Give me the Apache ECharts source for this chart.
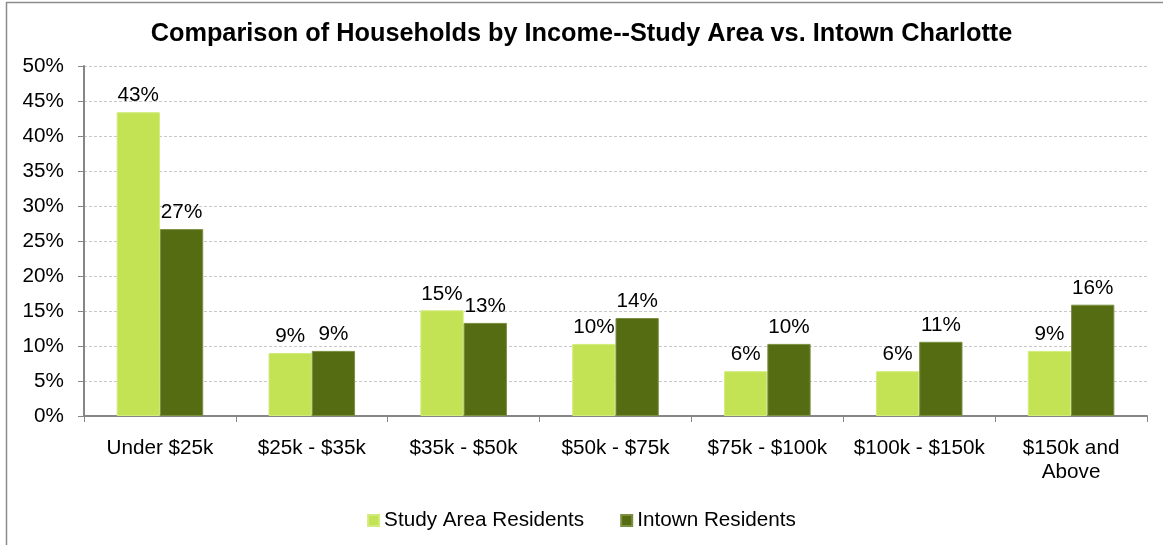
<!DOCTYPE html>
<html>
<head>
<meta charset="utf-8">
<script src="https://cdn.jsdelivr.net/npm/echarts@6/dist/echarts.min.js"></script>
<style>
  html, body { margin: 0; padding: 0; background: #ffffff; }
  #chart { width: 1163px; height: 545px; }
</style>
</head>
<body>
<div id="chart"></div>
<script>
// Household income brackets
const categories = ['Under $25k', '$25k - $35k', '$35k - $50k', '$50k - $75k', '$75k - $100k', '$100k - $150k', '$150k and\nAbove'];
// Share of households (%) in each bracket
const studyArea = [43.4, 9.0, 15.1, 10.3, 6.4, 6.4, 9.3];
const intown = [26.7, 9.3, 13.3, 14.0, 10.3, 10.6, 15.9];
const seriesNames = ['Study Area Residents', 'Intown Residents'];
const yTicks = { min: 0, max: 50, interval: 5 };

const FONT = '"Liberation Sans", Arial, sans-serif';
const label = {
  show: true,
  position: 'top',
  distance: 6,
  color: '#000',
  fontFamily: FONT,
  fontSize: 20.7,
  formatter: p => Math.round(p.value) + '%'
};

const chart = echarts.init(document.getElementById('chart'), null, { renderer: 'canvas' });
chart.setOption({
  backgroundColor: '#ffffff',
  animation: false,
  graphic: [{
    type: 'rect',
    left: 4, top: 0,
    shape: { width: 1200, height: 600 },
    style: { fill: 'none', stroke: '#8c8c8c', lineWidth: 1.5 },
    z: -1
  }],
  title: {
    text: 'Comparison of Households by Income--Study Area vs. Intown Charlotte',
    left: 'center',
    top: 17,
    textStyle: { fontFamily: FONT, fontSize: 25.3, fontWeight: 'bold', color: '#000' }
  },
  legend: {
    bottom: 9,
    left: 'center',
    itemWidth: 11,
    itemHeight: 11,
    itemGap: 36,
    icon: 'rect',
    textStyle: { fontFamily: FONT, fontSize: 20.7, color: '#000', padding: [0, 0, 0, 0] },
    data: seriesNames
  },
  grid: { left: 84, right: 16, top: 66, bottom: 129, containLabel: false },
  xAxis: {
    type: 'category',
    data: categories,
    axisLine: { lineStyle: { color: '#868686', width: 2 } },
    axisTick: { show: true, length: 6, interval: 0, lineStyle: { color: '#868686' } },
    axisLabel: { interval: 0, color: '#000', fontFamily: FONT, fontSize: 20.7, margin: 20, lineHeight: 24 }
  },
  yAxis: {
    type: 'value',
    min: yTicks.min,
    max: yTicks.max,
    interval: yTicks.interval,
    axisLine: { show: true, lineStyle: { color: '#868686', width: 2 } },
    axisTick: { show: true, length: 6, lineStyle: { color: '#868686' } },
    axisLabel: { color: '#000', fontFamily: FONT, fontSize: 20.7, margin: 20, formatter: '{value}%' },
    splitLine: { lineStyle: { color: '#c8c8c8', type: [3, 2], width: 1 } }
  },
  series: [
    {
      name: seriesNames[0],
      type: 'bar',
      data: studyArea,
      barGap: '0%',
      barCategoryGap: '43%',
      itemStyle: { color: '#c3e355', borderColor: '#d2ec7c', borderWidth: 1 },
      label: label
    },
    {
      name: seriesNames[1],
      type: 'bar',
      data: intown,
      itemStyle: { color: '#566c13', borderColor: '#7a9040', borderWidth: 1 },
      label: label
    }
  ]
});
</script>
</body>
</html>
